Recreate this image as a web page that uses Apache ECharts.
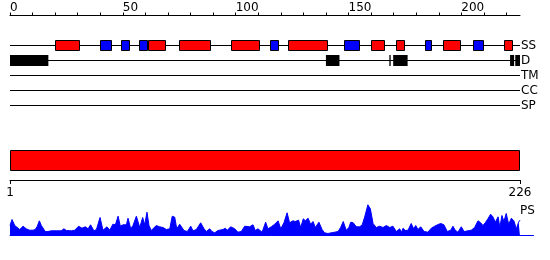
<!DOCTYPE html>
<html><head><meta charset="utf-8">
<script src="https://cdn.jsdelivr.net/npm/echarts@6/dist/echarts.min.js"></script>
<style>html,body{margin:0;padding:0;background:#fff}#c{width:550px;height:260px}</style>
</head><body><div id="c"></div>
<script>
// ---- data ----
const trackNames = ['SS', 'D', 'TM', 'CC', 'SP'];
const seqStart = 0;
const seqEnd = 226;
const scaleTicks = [0, 10, 20, 30, 40, 50, 60, 70, 80, 90, 100, 110, 120, 130, 140, 150, 160, 170, 180, 190, 200, 210, 220];
const scaleLabels = [0, 50, 100, 150, 200];
const helices = [[20, 31], [61, 69], [75, 89], [98, 111], [123, 141], [160, 166], [171, 175], [192, 200], [219, 223]];
const strands = [[40, 45], [49, 53], [57, 61], [115, 119], [148, 155], [184, 187], [205, 210]];
const disorder = [[0, 17], [140, 146], [168.1, 168.7], [169.8, 176.2], [221.6, 223.4], [223.9, 226]];
const domains = [[1, 226]];
const domainTicks = [1, 226];
const psResidue = [0,0.9,2.1,2.8,4.3,5.8,7.2,8.7,10.2,11.2,12.1,13,13.9,14.6,15.6,16.8,18.3,20.5,22.7,23.9,25,27.2,28.7,30.4,31.9,33.4,34.6,35.7,37.2,38.3,39.9,41.2,43,44.2,45.6,46.7,47.9,48.9,50.1,51.6,52.3,53.5,54.5,56,57.5,58.8,59.7,60.7,61.6,62.6,64.8,66.3,67.8,69.3,70.8,71.9,73,73.9,75.2,75.9,77.1,78.6,80.1,81.1,82.6,84.5,86,87,88.5,89.5,90.7,92.2,94.4,95.4,96.3,97.8,99.6,101,102.5,104,106.2,107.7,108.7,109.9,111.7,113.3,114.3,115.8,117.3,118.8,120,121.4,122.8,123.9,125.4,126.4,127.9,128.8,130,130.9,132.1,133.2,134.3,135.3,136.9,138.3,139.4,140.9,142.4,143.9,145.4,146.5,147.7,149,150.2,151,152.1,153.5,155,156.1,157.2,158.6,159.7,160.9,162.3,163.8,165.3,166.8,168.3,169.7,171.2,172.7,173.5,174.2,175.2,176.4,177.8,178.9,179.8,180.8,182,183.5,185.2,186.7,188.2,189.4,190.9,192.3,193.8,195.3,196.3,197.3,198.5,200,201.2,203,204.4,205.9,207.4,208.6,209.6,210.6,211.8,213,214,215.1,216.3,217.1,218,218.9,219.9,221,222.2,223.3,224.4,225.4,226];
const psScore = [10,16,10,11.3,6,9.3,6.7,5.3,5.3,6,9.3,14.7,10,8.3,4,4,4.7,4.7,4.7,6.7,5,4.7,5.3,9.3,7.3,8.7,6.7,10.7,4.7,6,18,5.3,8.7,5.3,11.3,10.7,19.3,9.3,10.7,10.7,17.3,6.7,10,19.3,8,18,10.7,23.3,10,5,10,8.7,8,6,6.7,19.3,18.3,6.7,11.3,13.3,5,4,9.3,4.7,6,12.7,6.7,4,6.7,4,2.7,5,6,7.3,5.3,8.7,6.7,3.3,4,9.3,8.7,10.7,5,6.7,3.3,13.3,6.7,8.7,11.3,14.7,6.7,12.7,22.7,12.7,14.7,14,15.3,8,16.7,14.7,17.3,11.3,14,8,13.3,6,2.7,2,2.7,3.3,4,8,14,5.3,8,13.3,12.7,8.7,8.7,10.7,18.7,30.7,26.7,12,8,9.3,8,10,8,9.3,4,6.7,3.3,7.3,5,5.3,12,6.7,10,6,8.7,4,3.3,7.3,9.3,10.7,12,10.7,4,5.3,9.3,5.3,3.3,8.7,4,4.7,5.3,8,14.7,12.7,10,12.7,16.7,21.3,18.7,13.3,18.7,8,20,14,22,11.3,17.3,14.7,6.7,13.3,15.3];

// ---- build ----
const FONT = 'DejaVu Sans';
function trackData(list, track) { return list.map(d => [d[0], d[1], track]); }

function ssRender(fill) {
  return function (params, api) {
    const s = api.coord([api.value(0), api.value(2)]);
    const e = api.coord([api.value(1), api.value(2)]);
    const x0 = Math.round(s[0]), x1 = Math.round(e[0]);
    return { type: 'rect', shape: { x: x0 + 0.5, y: s[1] - 5, width: x1 - x0 - 1, height: 10 },
      style: { fill: fill, stroke: '#000', lineWidth: 1 } };
  };
}
function disRender(params, api) {
  const s = api.coord([api.value(0), api.value(2)]);
  const e = api.coord([api.value(1), api.value(2)]);
  return { type: 'rect', shape: { x: s[0], y: s[1] - 5.5, width: Math.max(1, e[0] - s[0]), height: 11 },
    style: { fill: '#000' } };
}
function domRender(params, api) {
  const s = api.coord([api.value(0), 0]);
  const e = api.coord([api.value(1), 0]);
  const x0 = Math.round(s[0]), x1 = Math.round(e[0]);
  const y = params.coordSys.y;
  return { type: 'rect', shape: { x: x0 + 0.5, y: y + 0.5, width: x1 - x0 - 1, height: 20 },
    style: { fill: '#ff0000', stroke: '#000', lineWidth: 1 } };
}

const chart = echarts.init(document.getElementById('c'), null, { renderer: 'canvas' });
chart.setOption({
  animation: false,
  backgroundColor: '#fff',
  textStyle: { fontFamily: FONT },
  grid: [
    { left: 10, top: 45.5, width: 510, height: 60 },
    { left: 10, top: 150, width: 510, height: 30 },
    { left: 10, top: 204.5, width: 523.5, height: 31 }
  ],
  graphic: [{ type: 'text', left: 520, top: 205, style: { text: 'PS', font: '12px ' + FONT, fill: '#000' } }],
  xAxis: [
    { gridIndex: 0, type: 'value', position: 'top', offset: 30, min: seqStart, max: seqEnd,
      axisLine: { show: true, lineStyle: { color: '#000', width: 1 } },
      axisTick: { show: true, length: 3, customValues: scaleTicks, lineStyle: { color: '#000' } },
      axisLabel: { show: true, customValues: scaleLabels, align: 'left', margin: 2, fontSize: 12, color: '#000', fontFamily: FONT },
      splitLine: { show: false } },
    { gridIndex: 1, type: 'value', position: 'bottom', min: domainTicks[0], max: domainTicks[1],
      axisLine: { show: true, lineStyle: { color: '#000', width: 1 } },
      axisTick: { show: true, length: 4, customValues: domainTicks, lineStyle: { color: '#000' } },
      axisLabel: { show: true, customValues: domainTicks, margin: 7, fontSize: 12, color: '#000', fontFamily: FONT },
      splitLine: { show: false } },
    { gridIndex: 2, type: 'value', min: 0, max: 232,
      axisLine: { show: true, lineStyle: { color: '#0000ff', width: 1 } },
      axisTick: { show: false }, axisLabel: { show: false }, splitLine: { show: false } }
  ],
  yAxis: [
    { gridIndex: 0, type: 'category', data: trackNames, inverse: true, boundaryGap: false, position: 'right',
      axisLine: { show: false }, axisTick: { show: false, interval: 0 },
      axisLabel: { show: true, interval: 0, margin: 1, fontSize: 12, color: '#000', fontFamily: FONT },
      splitLine: { show: true, interval: 0, lineStyle: { color: '#000', width: 1 } } },
    { gridIndex: 1, type: 'value', min: 0, max: 1, show: false },
    { gridIndex: 2, type: 'value', min: 0, max: 31, show: false }
  ],
  series: [
    { type: 'custom', xAxisIndex: 0, yAxisIndex: 0, renderItem: ssRender('#ff0000'), data: trackData(helices, 0), encode: { x: [0, 1], y: 2 } },
    { type: 'custom', xAxisIndex: 0, yAxisIndex: 0, renderItem: ssRender('#0000ff'), data: trackData(strands, 0), encode: { x: [0, 1], y: 2 } },
    { type: 'custom', xAxisIndex: 0, yAxisIndex: 0, renderItem: disRender, data: trackData(disorder, 1), encode: { x: [0, 1], y: 2 } },
    { type: 'custom', xAxisIndex: 1, yAxisIndex: 1, renderItem: domRender, data: domains, encode: { x: [0, 1] } },
    { type: 'line', xAxisIndex: 2, yAxisIndex: 2, showSymbol: false, symbol: 'none',
      data: psResidue.map((r, i) => [r, psScore[i]]),
      lineStyle: { color: '#0000ff', width: 1 }, areaStyle: { color: '#0000ff', opacity: 1 } }
  ]
});
</script>
</body></html>
